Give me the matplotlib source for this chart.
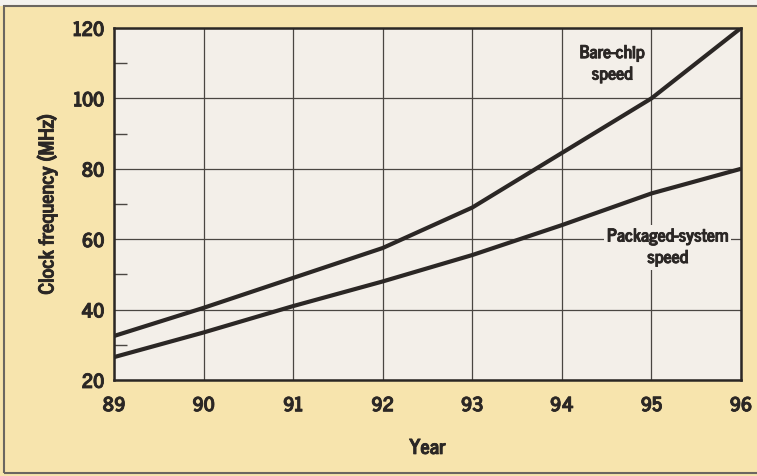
import matplotlib
matplotlib.use("Agg")
import matplotlib.pyplot as plt
import matplotlib.patheffects as pe
from matplotlib.patches import Rectangle
from matplotlib import font_manager
from matplotlib.textpath import TextPath

years = [89, 90, 91, 92, 93, 94, 95, 96]
bare_chip = [32.5, 40.5, 49, 57.5, 69, 84.5, 100, 120]
packaged = [26.5, 33.5, 41, 48, 55.5, 64, 73, 80]
y_ticks = [20, 40, 60, 80, 100, 120]
y_minor = [30, 50, 70, 90, 110]

yellow = "#f7e4ad"
paper = "#f3efe9"
ink = "#2b2725"


def weight_num(w):
    if isinstance(w, str):
        return font_manager.weight_dict.get(w, 400)
    return w


# pick the bold face closest in shape to the narrow type of the original
def measure(fp, s):
    ext = TextPath((0, 0), s, prop=fp).get_extents()
    return ext.width, ext.height


best = None
for f in font_manager.fontManager.ttflist:
    wn = weight_num(f.weight)
    fn = f.fname.lower()
    if "CJK" in f.name or wn < 700 or wn > 800 or f.style != "normal":
        continue
    if "[" in fn or "variable" in fn or "bold" not in fn:
        continue
    try:
        fp = font_manager.FontProperties(fname=f.fname, size=100)
        w, _ = measure(fp, "Packaged-system")
        _, h = measure(fp, "H")
    except Exception:
        continue
    score = abs(w / h - 9.2)
    if best is None or score < best[0]:
        best = (score, f.fname, h, w)

if best is not None:
    fname, cap100, wide100 = best[1], best[2], best[3]
    def fprop(cap_px, width_px=None):
        s = cap_px * 72 / cap100
        if width_px is not None:
            s = min(s, width_px * 72 / wide100 * 1.02)
        return font_manager.FontProperties(fname=fname, size=s)
else:
    def fprop(cap_px, width_px=None):
        return font_manager.FontProperties(family="DejaVu Sans", weight="bold", size=cap_px * 0.7)

tick_fp = fprop(14.5)
label_fp = fprop(15)
note_fp = fprop(13, 118)
heavy = [pe.withStroke(linewidth=0.6, foreground=ink)]

fig = plt.figure(figsize=(7.57, 4.76), dpi=100)
fig.patch.set_facecolor(yellow)

# white strip at top and the grey frame
fig.add_artist(Rectangle((0, 1 - 6 / 476), 1, 6 / 476, transform=fig.transFigure,
                         facecolor="#f4f2ee", edgecolor="none", zorder=0))
fig.add_artist(Rectangle((4 / 757, 1 - 473 / 476), 1.1, 467 / 476, transform=fig.transFigure,
                         facecolor="none", edgecolor="#6b6660", lw=1.5, zorder=1))

ax = fig.add_axes([114 / 757, 1 - 380 / 476, 627 / 757, 352 / 476])
ax.set_facecolor(paper)

ax.plot(years, bare_chip, color=ink, lw=3, solid_capstyle="butt", zorder=3)
ax.plot(years, packaged, color=ink, lw=3, solid_capstyle="butt", zorder=3)

ax.set_xlim(89, 96)
ax.set_ylim(20, 120)
ax.set_xticks(years)
ax.set_xticklabels([str(y) for y in years])
ax.set_yticks(y_ticks)
ax.set_yticks(y_minor, minor=True)
ax.grid(True, which="major", color="#4a4642", lw=0.9, zorder=1)
ax.tick_params(which="major", length=0, pad=7, colors=ink)
ax.tick_params(axis="x", pad=11)
ax.tick_params(which="minor", axis="y", direction="in", length=9, width=1, color="#4a4642")
for lab in ax.get_xticklabels() + ax.get_yticklabels():
    lab.set_fontproperties(tick_fp)
    lab.set_path_effects(heavy)
for s in ax.spines.values():
    s.set_color(ink)
    s.set_linewidth(1.8)

ax.set_ylabel("Clock frequency (MHz)", fontproperties=label_fp, color=ink, va="center",
              path_effects=heavy)
ax.yaxis.set_label_coords(-0.107, 0.5)
ax.set_xlabel("Year", fontproperties=label_fp, color=ink, va="center", path_effects=heavy)
ax.xaxis.set_label_coords(0.5, -0.193)

ax.text(94.56, 109.8, "Bare-chip\nspeed", ha="center", va="center", fontproperties=note_fp,
        color=ink, linespacing=1.25, zorder=4, path_effects=heavy)
ax.text(95.18, 57.7, "Packaged-system\nspeed", ha="center", va="center", fontproperties=note_fp,
        color=ink, linespacing=1.25, zorder=4, path_effects=heavy,
        bbox=dict(facecolor=paper, edgecolor="none", pad=2))

fig.savefig("out.png", dpi=100, facecolor=yellow)
